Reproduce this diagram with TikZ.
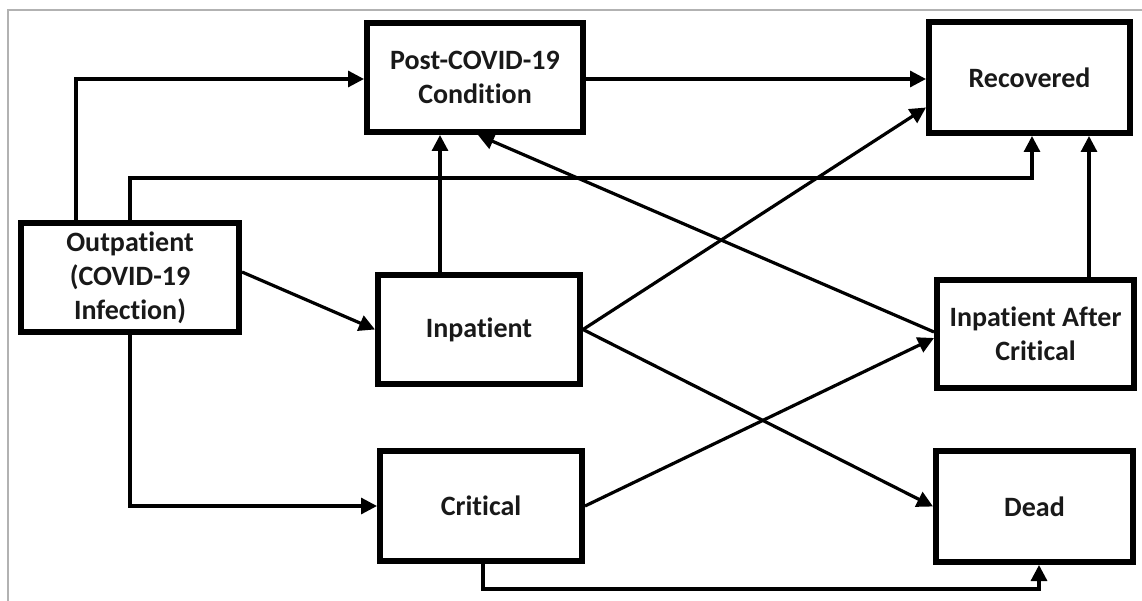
\documentclass[tikz,border=0pt]{standalone}
\usepackage{fontspec}
\setmainfont{Carlito}[Ligatures={NoCommon}]
\usetikzlibrary{arrows.meta,calc}
\begin{document}
\begin{tikzpicture}[x=1pt,y=-1pt,
  box/.style={draw=black,line width=6pt,fill=white,align=center,inner sep=0pt,
    font=\bfseries\fontsize{28}{34}\selectfont,text=black!90},
  arr/.style={line width=3.2pt,-{Triangle[length=16pt,width=16pt]}}]
\useasboundingbox (0,0) rectangle (1142,601);
\draw[black!30,line width=1.2pt] (8,601) -- (8,10) -- (1142,10);

\node[box,minimum width=218pt,minimum height=109pt] (out) at (130,277.5) {Outpatient\\(COVID-19\\Infection)};
\node[box,minimum width=216pt,minimum height=109pt] (post) at (475,77.5) {Post-COVID-19\\Condition};
\node[box,minimum width=201pt,minimum height=111pt] (rec) at (1029.5,77.5) {Recovered};
\node[box,minimum width=202pt,minimum height=109pt] (inp) at (479,329.5) {Inpatient};
\node[box,minimum width=197pt,minimum height=108pt] (iac) at (1035.5,334) {Inpatient After\\Critical};
\node[box,minimum width=197pt,minimum height=111pt] (dead) at (1034.5,506.5) {Dead};
\node[box,minimum width=202pt,minimum height=110pt] (crit) at (481,506) {Critical};

\coordinate (c1) at (76,79);
\coordinate (c2) at (1032,178);
\coordinate (c3) at (483,589);
\coordinate (c4) at (1039,589);

% Outpatient -> Post-COVID
\draw[arr] (c1 |- out.north) -- (c1) -- (c1 -| post.west);
% Outpatient -> Recovered
\draw[arr] (out.north) |- (c2) -- (c2 |- rec.south);
% Outpatient -> Inpatient
\draw[arr] ([yshift=5.5pt]out.east) -- (inp.west);
% Outpatient -> Critical
\draw[arr] (out.south) |- (crit.west);
% Inpatient -> Post-COVID
\draw[arr] ([xshift=-39pt]inp.north) -- ([xshift=-39pt]inp.north |- post.south);
% Post-COVID -> Recovered
\draw[arr] ([yshift=-1.5pt]post.east) -- ([yshift=-1.5pt]rec.west);
% Inpatient -> Recovered
\draw[arr] (inp.east) -- ([yshift=-30pt]rec.west);
% Inpatient -> Dead
\draw[arr] (inp.east) -- (dead.west);
% Critical -> Inpatient After Critical
\draw[arr] (crit.east) -- ([yshift=-4pt]iac.west);
% Inpatient After Critical -> Post-COVID
\draw[arr] ([yshift=2pt]iac.west) -- ([xshift=3pt]post.south);
% Inpatient After Critical -> Recovered
\draw[arr] ([xshift=53.5pt]iac.north) -- ([xshift=53.5pt]iac.north |- rec.south);
% Critical -> Dead
\draw[arr] (c3 |- crit.south) -- (c3) -- (c4) -- (c4 |- dead.south);
\end{tikzpicture}
\end{document}
